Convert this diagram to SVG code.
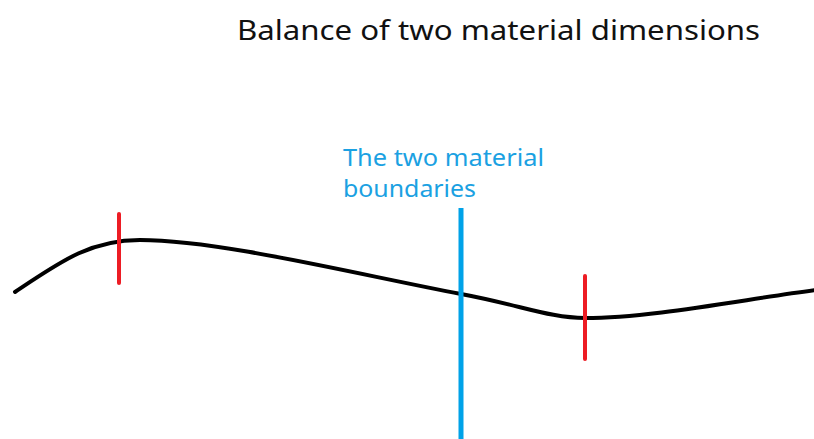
<svg xmlns="http://www.w3.org/2000/svg" width="814" height="439" viewBox="0 0 814 439">
<style>
.title{font-family:"Noto Sans","Open Sans",sans-serif;font-size:27px;fill:#111}
.lbl{font-family:"Noto Sans","Open Sans",sans-serif;font-size:23px;fill:#1ba1e2}
.curve{fill:none;stroke:#000;stroke-width:4;stroke-linecap:round}
.red{stroke:#ed1c24;stroke-width:4;stroke-linecap:round}
.blue{stroke:#00a2e8;stroke-width:5}
</style>
<rect width="814" height="439" fill="#fff"/>
<g id="title"><text class="title" x="237" y="40" textLength="523" lengthAdjust="spacingAndGlyphs">Balance of two material dimensions</text></g>
<g id="curve"><path class="curve" d="M15,292 C60,262 90,240 140,240 C220,240 360,275 461,294 C520,305 550,318 585,318 C650,318 740,300 816,290"/></g>
<g id="markers">
<line class="red" x1="119" y1="214" x2="119" y2="283"/>
<line class="red" x1="585" y1="276" x2="585" y2="359"/>
</g>
<g id="boundary">
<line class="blue" x1="461" y1="208" x2="461" y2="439"/>
<text class="lbl" x="343" y="166" textLength="201" lengthAdjust="spacingAndGlyphs">The two material</text>
<text class="lbl" x="343" y="197" textLength="133" lengthAdjust="spacingAndGlyphs">boundaries</text>
</g>
</svg>
